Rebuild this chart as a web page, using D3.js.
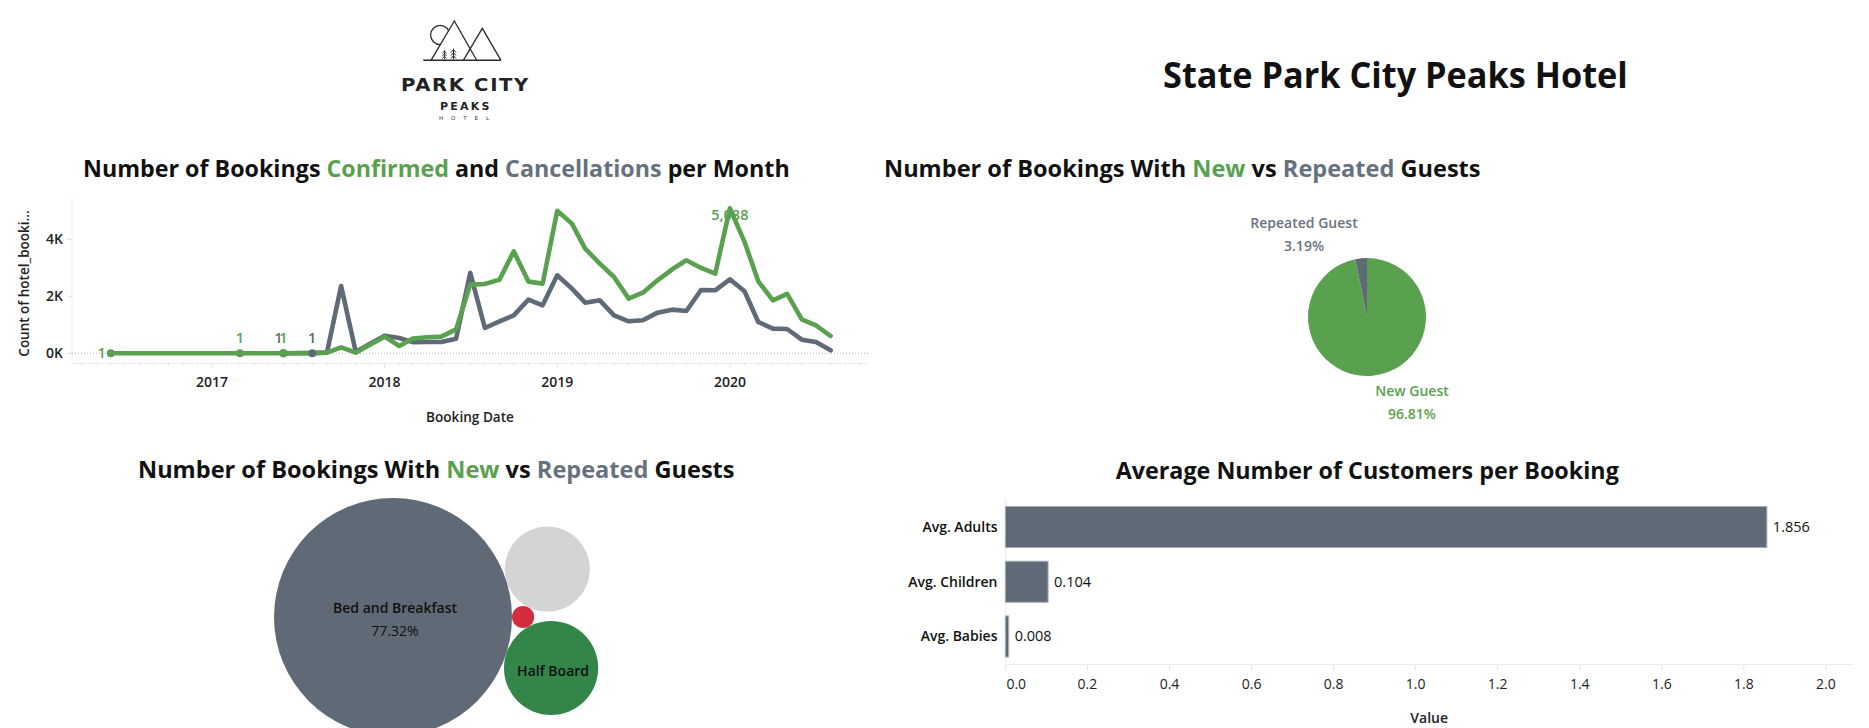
<!DOCTYPE html>
<html><head><meta charset="utf-8">
<script src="https://cdn.jsdelivr.net/npm/d3@7"></script>
<style>
html,body{margin:0;padding:0;background:#fff;}
svg{display:block;font-family:"Open Sans",Lato,sans-serif;}
</style></head><body>
<svg id="chart" width="1869" height="728"></svg>
<script>
// ---------------- DATA ----------------
const confirmedMonths = ["2016-06","2017-03","2017-06","2017-09","2017-10","2017-11","2017-12",
  "2018-01","2018-02","2018-03","2018-04","2018-05","2018-06","2018-07","2018-08","2018-09","2018-10","2018-11","2018-12",
  "2019-01","2019-02","2019-03","2019-04","2019-05","2019-06","2019-07","2019-08","2019-09","2019-10","2019-11","2019-12",
  "2020-01","2020-02","2020-03","2020-04","2020-05","2020-06","2020-07","2020-08"];
const confirmedValues = [1,1,1,23,211,23,304,
  585,257,515,562,585,842,2410,2434,2586,3580,2516,2445,
  5000,4551,3674,3147,2679,1919,2129,2562,2948,3264,2995,2796,
  5088,3908,2527,1860,2083,1193,983,608];
const cancelledMonths = ["2017-06","2017-08","2017-09","2017-10","2017-11","2017-12",
  "2018-01","2018-02","2018-03","2018-04","2018-05","2018-06","2018-07","2018-08","2018-09","2018-10","2018-11","2018-12",
  "2019-01","2019-02","2019-03","2019-04","2019-05","2019-06","2019-07","2019-08","2019-09","2019-10","2019-11","2019-12",
  "2020-01","2020-02","2020-03","2020-04","2020-05","2020-06","2020-07","2020-08"];
const cancelledValues = [1,1,23,2363,47,339,
  620,538,392,396,400,515,2820,889,1123,1334,1884,1685,
  2738,2270,1778,1860,1334,1123,1158,1427,1533,1486,2223,2211,
  2597,2176,1100,866,854,480,398,105];
const confirmedLabelMonths = ["2016-06","2017-03","2017-06","2020-01"];
const cancelledLabelMonths = ["2017-06","2017-08"];
const countTicks = [0,2000,4000];
const yearTicks = ["2017","2018","2019","2020"];

const guestTypes = ["New Guest","Repeated Guest"];
const guestShares = [96.81, 3.19];

const mealTypes = ["Bed and Breakfast","Full Board","Half Board","Self Catering"];
const mealShares = [77.32, 0.67, 12.11, 9.90];
const mealShowName = [true,false,true,false];
const mealShowPct = [true,false,false,false];

const customerCategories = ["Avg. Adults","Avg. Children","Avg. Babies"];
const customerAverages = [1.856, 0.104, 0.008];
const valueTicks = [0,0.2,0.4,0.6,0.8,1.0,1.2,1.4,1.6,1.8,2.0];

// ---------------- STYLE ----------------
const GREEN = "#59a14f", GRAY = "#5f6a76", TITLEGRAY = "#66717d";
const DARKGREEN = "#33854a", RED = "#d42b3f", LIGHT = "#d4d4d4";
const BOLD = 600;
const svg = d3.select("#chart");

// scale a text group horizontally so it spans [x0,x1] (start anchored)
function fitText(g, x0, x1, baseline) {
  const w = g.node().getBBox().width;
  const k = (x1 - x0) / w;
  g.attr("transform", `translate(${x0},${baseline}) scale(${k},1)`);
}
function title(parts, x0, x1, baseline, size) {
  const g = svg.append("g");
  const t = g.append("text").attr("x",0).attr("y",0)
    .attr("font-size",size).attr("font-weight",700).attr("fill","#111");
  parts.forEach(p => t.append("tspan").text(p[0]).attr("fill", p[1] || "#111"));
  fitText(g, x0, x1, baseline);
  return g;
}

// ---------------- LOGO ----------------
const logo = svg.append("g").attr("fill","none").attr("stroke","#2a2a2a").attr("stroke-width",1.3)
  .attr("stroke-linejoin","miter");
logo.append("line").attr("x1",423.3).attr("x2",501).attr("y1",60.3).attr("y2",60.3).attr("stroke-width",1.6);
logo.append("polyline").attr("points","431,60.3 454.3,21 476.7,60.3");
logo.append("polyline").attr("points","463.3,60.3 482.3,28.3 501,60.3");
svg.append("clipPath").attr("id","sunclip").append("polygon").attr("points","380,0 466.75,0 419.3,80 380,80");
logo.append("circle").attr("cx",440.2).attr("cy",35).attr("r",9.6).attr("clip-path","url(#sunclip)");
[444.5, 453.5].forEach((tx,i) => {
  const s = i===0 ? 0.85 : 1;
  const tg = logo.append("g").attr("transform",`translate(${tx},${59.5}) scale(${s})`).attr("stroke-width",1);
  tg.append("line").attr("x1",0).attr("x2",0).attr("y1",0).attr("y2",-11);
  [-10,-7,-4].forEach(yy => tg.append("polyline").attr("points",`-2.4,${yy+3} 0,${yy} 2.4,${yy+3}`));
});
const lt1 = svg.append("g"); lt1.append("text").text("PARK CITY").attr("font-size",18).attr("font-weight",900)
  .attr("letter-spacing",1.5).attr("fill","#222").attr("font-family","'DejaVu Sans',sans-serif");
fitText(lt1, 401, 530, 91);
const lt2 = svg.append("g"); lt2.append("text").text("PEAKS").attr("font-size",10).attr("font-weight",700)
  .attr("letter-spacing",2).attr("fill","#222").attr("font-family","'DejaVu Sans',sans-serif");
fitText(lt2, 440, 491.7, 109.5);
const lt3 = svg.append("g"); lt3.append("text").text("HOTEL").attr("font-size",5).attr("font-weight",400)
  .attr("letter-spacing",7).attr("fill","#333").attr("font-family","'DejaVu Sans',sans-serif");
fitText(lt3, 439, 497, 119.5);

// ---------------- MAIN TITLE ----------------
title([["State Park City Peaks Hotel"]], 1163, 1628, 88, 36);

// ---------------- LINE CHART ----------------
title([["Number of Bookings "],["Confirmed",GREEN],[" and "],["Cancellations",TITLEGRAY],[" per Month"]], 83, 790, 176.5, 24);
const parseM = d3.timeParse("%Y-%m");
const xL = d3.scaleTime().domain([new Date(2016,2,11), new Date(2020,9,19)]).range([72, 868]);
const yL = d3.scaleLinear().domain([-350, 5450]).range([363.3, 198]);
const lc = svg.append("g");
lc.append("line").attr("x1",72).attr("x2",72).attr("y1",198).attr("y2",363.3).attr("stroke","#ececec");
lc.append("line").attr("x1",72).attr("x2",868).attr("y1",363.3).attr("y2",363.3).attr("stroke","#ececec");
lc.append("line").attr("x1",72).attr("x2",868).attr("y1",yL(0)).attr("y2",yL(0))
  .attr("stroke","#b8b8b8").attr("stroke-dasharray","1,2");
const monthTicks = d3.timeMonth.range(xL.domain()[0], xL.domain()[1]);
lc.selectAll(".mt").data(monthTicks).join("line")
  .attr("x1",d=>xL(d)).attr("x2",d=>xL(d)).attr("y1",363.3)
  .attr("y2",d=>d.getMonth()===0?368:366).attr("stroke","#e4e4e4");
lc.selectAll(".yt").data(countTicks).join("line")
  .attr("x1",67).attr("x2",72).attr("y1",d=>yL(d)).attr("y2",d=>yL(d)).attr("stroke","#e0e0e0");
lc.selectAll(".ytl").data(countTicks).join("text")
  .attr("x",63).attr("y",d=>yL(d)+5).attr("text-anchor","end").attr("font-size",14).attr("font-weight",BOLD)
  .attr("fill","#222").text(d=>d/1000+"K");
lc.selectAll(".xtl").data(yearTicks).join("text")
  .attr("x",d=>xL(new Date(+d,0,1))).attr("y",387).attr("text-anchor","middle").attr("font-size",14)
  .attr("font-weight",BOLD).attr("fill","#222").text(d=>d);
lc.append("text").attr("x",470).attr("y",422).attr("text-anchor","middle").attr("font-size",13.6)
  .attr("font-weight",BOLD).attr("fill","#222").text("Booking Date");
lc.append("text").attr("transform","translate(29,283.5) rotate(-90)").attr("text-anchor","middle")
  .attr("font-size",13.5).attr("font-weight",BOLD).attr("fill","#222").text("Count of hotel_booki...");

const confirmed = confirmedMonths.map((m,i)=>({m, d:parseM(m), v:confirmedValues[i]}));
const cancelled = cancelledMonths.map((m,i)=>({m, d:parseM(m), v:cancelledValues[i]}));
const line = d3.line().x(d=>xL(d.d)).y(d=>yL(d.v));
[[cancelled,GRAY],[confirmed,GREEN]].forEach(([data,col]) => {
  lc.append("path").datum(data).attr("d",line).attr("fill","none").attr("stroke",col)
    .attr("stroke-width",4.6).attr("stroke-linejoin","round").attr("stroke-linecap","round");
});
const fmt = d3.format(",");
function labels(data, months, col, other) {
  const pts = data.filter(d=>months.includes(d.m));
  lc.selectAll(null).data(pts.filter(d=>d.v<10)).join("circle")
    .attr("cx",d=>xL(d.d)).attr("cy",d=>yL(d.v)).attr("r",4).attr("fill",col);
  pts.forEach(d => {
    const t = lc.append("text").attr("font-size",14.5).attr("font-weight",BOLD).attr("fill",col).text(fmt(d.v));
    const isFirst = d === data[0] && data === confirmed;
    const isTop = d.v === d3.max(data, e=>e.v);
    if (isFirst) t.attr("x",xL(d.d)-5).attr("y",yL(d.v)+5).attr("text-anchor","end");
    else if (isTop) t.attr("x",xL(d.d)).attr("y",yL(d.v)+12).attr("text-anchor","middle");
    else t.attr("x",xL(d.d) - (other.includes(d.m)?5:0)).attr("y",yL(d.v)-10).attr("text-anchor","middle");
  });
}
labels(cancelled, cancelledLabelMonths, GRAY, confirmedLabelMonths);
labels(confirmed, confirmedLabelMonths, GREEN, []);

// ---------------- PIE ----------------
title([["Number of Bookings With "],["New",GREEN],[" vs "],["Repeated",TITLEGRAY],[" Guests"]], 884, 1481, 176.5, 24);
const pieC = [1367, 317], pieR = 59;
const pie = d3.pie().sort(null).value(d=>d.v);
const arcs = pie(guestTypes.map((g,i)=>({g, v:guestShares[i]})));
const arc = d3.arc().innerRadius(0).outerRadius(pieR);
const pg = svg.append("g").attr("transform",`translate(${pieC})`);
pg.selectAll("path").data(arcs).join("path").attr("d",arc)
  .attr("fill",d=>d.data.g==="New Guest"?GREEN:GRAY);
const pieLabelPos = {"New Guest":[45,79], "Repeated Guest":[-63,-89]};
arcs.forEach(a => {
  const [dx,dy] = pieLabelPos[a.data.g];
  const col = a.data.g==="New Guest"?GREEN:"#6a737e";
  pg.append("text").attr("x",dx).attr("y",dy).attr("text-anchor","middle").attr("font-size",14)
    .attr("font-weight",BOLD).attr("fill",col).text(a.data.g);
  pg.append("text").attr("x",dx).attr("y",dy+22.5).attr("text-anchor","middle").attr("font-size",14)
    .attr("font-weight",BOLD).attr("fill",col).text(a.data.v.toFixed(2)+"%");
});

// ---------------- BUBBLES ----------------
title([["Number of Bookings With "],["New",GREEN],[" vs "],["Repeated",TITLEGRAY],[" Guests"]], 138, 735, 477.5, 24);
const rS = d3.scaleSqrt().domain([0, d3.max(mealShares)]).range([0, 119]);
const bubbles = mealTypes.map((m,i)=>({name:m, v:mealShares[i], r:rS(mealShares[i]), showName:mealShowName[i], showPct:mealShowPct[i]}));
d3.packSiblings(bubbles);
const bubbleAnchor = [393, 617]; // centre of the largest bubble
const bx = bubbleAnchor[0]-bubbles[0].x, by = bubbleAnchor[1]-bubbles[0].y;
const mealColor = d3.scaleOrdinal().domain(mealTypes).range([GRAY, RED, DARKGREEN, LIGHT]);
const bg = svg.append("g").attr("transform",`translate(${bx},${by})`);
bg.selectAll("circle").data(bubbles).join("circle")
  .attr("cx",d=>d.x).attr("cy",d=>d.y).attr("r",d=>d.r).attr("fill",d=>mealColor(d.name));
bubbles.forEach(b => {
  if (!b.showName) return;
  const off = b.showPct ? -9 : 3;
  bg.append("text").attr("x",b.x+2).attr("y",b.y+off+5).attr("text-anchor","middle").attr("font-size",14)
    .attr("font-weight",BOLD).attr("fill","#111").text(b.name);
  if (b.showPct) bg.append("text").attr("x",b.x+2).attr("y",b.y+off+28).attr("text-anchor","middle")
    .attr("font-size",14).attr("fill","#111").text(b.v.toFixed(2)+"%");
});

// ---------------- BAR CHART ----------------
title([["Average Number of Customers per Booking"]], 1115.7, 1619.5, 479, 24);
const xB = d3.scaleLinear().domain([0, 2.066]).range([1005.4, 1853]);
const yB = d3.scaleBand().domain(customerCategories).range([499, 664.5]).paddingInner(0.25).paddingOuter(0.1375);
const barG = svg.append("g");
barG.append("line").attr("x1",xB(0)).attr("x2",xB(0)).attr("y1",499).attr("y2",664.5).attr("stroke","#ececec");
barG.append("line").attr("x1",xB(0)).attr("x2",1853).attr("y1",664.5).attr("y2",664.5).attr("stroke","#ececec");
barG.selectAll(".vt").data(valueTicks).join("line")
  .attr("x1",d=>xB(d)).attr("x2",d=>xB(d)).attr("y1",664.5).attr("y2",670).attr("stroke","#e4e4e4");
barG.selectAll(".vtl").data(valueTicks).join("text")
  .attr("x",d=>d===0?xB(d)+1:xB(d)).attr("y",689).attr("text-anchor",d=>d===0?"start":"middle")
  .attr("font-size",14).attr("fill","#222").text(d=>d3.format(".1f")(d));
barG.append("text").attr("x",(xB(0)+1853)/2).attr("y",723).attr("text-anchor","middle").attr("font-size",14)
  .attr("font-weight",BOLD).attr("fill","#222").text("Value");
const bars = customerCategories.map((c,i)=>({c, v:customerAverages[i]}));
barG.selectAll("rect").data(bars).join("rect")
  .attr("x",xB(0)).attr("y",d=>yB(d.c)).attr("width",d=>xB(d.v)-xB(0)).attr("height",yB.bandwidth())
  .attr("fill",GRAY).attr("stroke","#a3abb3").attr("stroke-width",1);
barG.selectAll(".bv").data(bars).join("text")
  .attr("x",d=>xB(d.v)+6).attr("y",d=>yB(d.c)+yB.bandwidth()/2+5).attr("font-size",14.5).attr("fill","#111")
  .text(d=>d3.format(".3f")(d.v));
barG.selectAll(".bc").data(bars).join("text")
  .attr("x",997.5).attr("y",d=>yB(d.c)+yB.bandwidth()/2+5).attr("text-anchor","end").attr("font-size",14)
  .attr("font-weight",BOLD).attr("fill","#111").text(d=>d.c);
</script>
</body></html>
